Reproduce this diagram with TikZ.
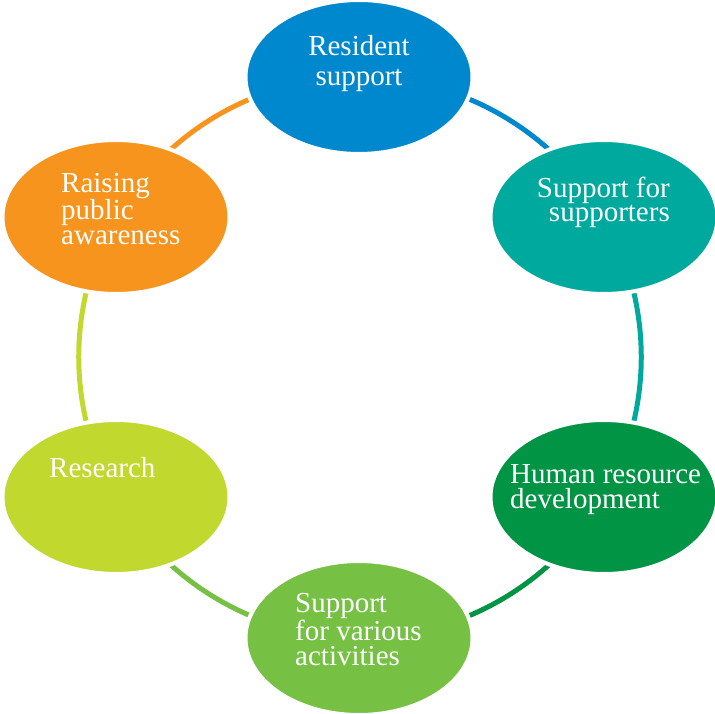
\documentclass[tikz,border=0pt]{standalone}
\usepackage{fontspec}
\setmainfont{Liberation Serif}
\usetikzlibrary{shapes.geometric, backgrounds}
\definecolor{resblue}{HTML}{0088CE}
\definecolor{supteal}{HTML}{00A99D}
\definecolor{humgreen}{HTML}{009444}
\definecolor{varlime}{HTML}{76C043}
\definecolor{rscyellow}{HTML}{C1D82F}
\definecolor{raiorange}{HTML}{F7941D}
\tikzset{
  blob/.style={ellipse, draw=white, line width=4pt, inner sep=0pt,
    minimum width=227pt, minimum height=154pt},
  blobtext/.style={text=white, inner sep=0pt, font=\fontsize{29}{24.5}\selectfont},
  ring/.style={line width=5pt, bend left=30, looseness=0.91}
}

\begin{document}
\begin{tikzpicture}[x=1pt, y=-1pt]
\useasboundingbox (0,0) rectangle (715,714);
% the six fields of activity
\node[blob, fill=resblue]   (res) at (359,77)  {};
\node[blob, fill=supteal]   (sup) at (604,217) {};
\node[blob, fill=humgreen]  (hum) at (604,497) {};
\node[blob, fill=varlime]   (var) at (359,638) {};
\node[blob, fill=rscyellow] (rsc) at (116,497) {};
\node[blob, fill=raiorange] (rai) at (116,217) {};
% labels (base = last line)
\node[blobtext, align=center, anchor=base, font=\fontsize{29}{30}\selectfont] (res-txt) at (359,86) {Resident\\support};
\node[blobtext, align=right, anchor=base east] (sup-txt) at (670,222) {Support for\\supporters};
\node[blobtext, align=left, anchor=base west] (hum-txt) at (510,508) {Human resource\\development};
\node[blobtext, align=left, anchor=base west] (var-txt) at (295,665) {Support\\for various\\activities};
\node[blobtext, align=left, anchor=base west] (rsc-txt) at (49,477) {Research};
\node[blobtext, align=left, anchor=base west] (rai-txt) at (61,244) {Raising\\public\\awareness};
% the ring
\begin{scope}[on background layer]
\fill[white] (0,0) rectangle (715,714);
\draw[ring, resblue]   (res.center) to (sup.center);
\draw[ring, supteal]   (sup.center) to (hum.center);
\draw[ring, humgreen]  (hum.center) to (var.center);
\draw[ring, varlime]   (var.center) to (rsc.center);
\draw[ring, rscyellow] (rsc.center) to (rai.center);
\draw[ring, raiorange] (rai.center) to (res.center);
\end{scope}
\end{tikzpicture}
\end{document}
